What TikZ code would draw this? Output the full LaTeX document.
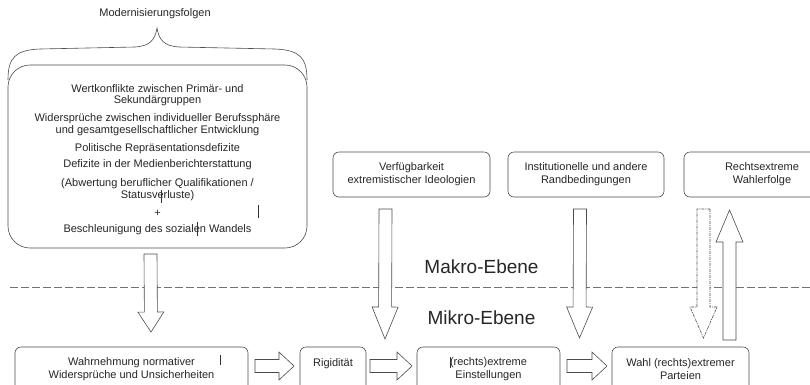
\documentclass[tikz,border=0pt]{standalone}
\usepackage{fontspec}
\setmainfont{Liberation Sans}
\usetikzlibrary{calc}
\newcommand\smallfs{\fontsize{11}{13}\selectfont}
\tikzset{
  rbox/.style={draw=black!70, line width=0.6pt, rounded corners=6pt, align=center,
    inner sep=0pt, font=\smallfs, text=black!85},
  blk/.style={draw=black!70, line width=0.6pt, fill=white, line join=miter},
  lvl/.style={font=\fontsize{19}{22}\selectfont, text=black!85, anchor=base},
  cursor/.style={draw=black!80, line width=0.7pt},
  dashdot/.style={dash pattern=on 3pt off 1pt on 1pt off 1pt},
}
% block arrow: [style]{start}{tip}{shaft half width}{head half width}{head length}
\newcommand\blockarr[6][]{%
  \coordinate (ba-c) at ($(#3)!#6!(#2)$);
  \draw[blk,#1] ($(#2)!#4!90:(#3)$) -- ($(ba-c)!#4!90:(#3)$) -- ($(ba-c)!#5!90:(#3)$)
    -- (#3) -- ($(ba-c)!#5!-90:(#3)$) -- ($(ba-c)!#4!-90:(#3)$) -- ($(#2)!#4!-90:(#3)$) -- cycle;}
\begin{document}
\begin{tikzpicture}[x=1pt,y=-1pt]
\useasboundingbox (0,0) rectangle (810,384);
\clip (0,0) rectangle (810,384);
\fill[white] (0,0) rectangle (810,384);

% title and brace
\node[font=\smallfs, text=black!85] (title) at (155,14) {Modernisierungsfolgen};
\draw[black!70, line width=0.6pt] (8,80) .. controls (8,58) and (15,50) .. (40,49)
  -- (135,47) .. controls (150,46) and (155,40) .. (157,28)
  .. controls (159,40) and (164,46) .. (179,47) -- (275,49)
  .. controls (300,50) and (307,58) .. (307,80);

% big box
\node[rbox, rounded corners=22pt, minimum width=299pt, minimum height=183pt] (big) at (157.5,156.5) {};
\node[align=center, inner sep=0pt, text=black!85, font=\fontsize{11}{11.8}\selectfont] (bigtext) at (157.5,159.5)
  {Wertkonflikte zwischen Primär- und\\ Sekundärgruppen\\[6.2pt]
   Widersprüche zwischen individueller Berufssphäre\\ und gesamtgesellschaftlicher Entwicklung\\[6.2pt]
   Politische Repräsentationsdefizite\\[4.2pt]
   Defizite in der Medienberichterstattung\\[7.2pt]
   (Abwertung beruflicher Qualifikationen /\\ Statusverluste)\\[6.2pt]
   +\\[4.2pt]
   Beschleunigung des sozialen Wandels};

% top right boxes
\node[rbox, minimum width=157pt, minimum height=45pt] (verf) at (411.5,174.5)
  {Verfügbarkeit\\extremistischer Ideologien};
\node[rbox, minimum width=156pt, minimum height=45pt] (inst) at (586,174.5)
  {Institutionelle und andere\\Randbedingungen};
\node[rbox, minimum width=156pt, minimum height=45pt] (rwe) at (762,174.5)
  {Rechtsextreme\\Wahlerfolge};

% bottom boxes
\node[rbox, minimum width=233pt, minimum height=45pt] (wahr) at (131.5,369.5)
  {Wahrnehmung normativer\\Widersprüche und Unsicherheiten};
\node[rbox, minimum width=66pt, minimum height=45pt] (rig) at (333,369.5)
  {Rigidität\\\mbox{}};
\node[rbox, minimum width=143pt, minimum height=45pt] (rext) at (488.5,369.5)
  {(rechts)extreme\\Einstellungen};
\node[rbox, minimum width=137pt, minimum height=45pt] (wahl) at (680.5,369.5)
  {Wahl (rechts)extremer\\Parteien};

% level line and labels
\coordinate (lineL) at (10,287.5);
\coordinate (lineR) at (810,287.5);
\draw[black!55, line width=0.6pt, dash pattern=on 8pt off 3pt] (lineL) -- (lineR);
\node[lvl] (makro) at (481.5,273) {Makro-Ebene};
\node[lvl] (mikro) at (481.5,324) {Mikro-Ebene};

% vertical arrows
\coordinate (a1s) at (150.5,254); \coordinate (a1t) at (151,332);
\blockarr{a1s}{a1t}{6.5pt}{13pt}{20pt}
\coordinate (a2s) at (385.5,209); \coordinate (a2t) at (385,339);
\blockarr{a2s}{a2t}{6.5pt}{13pt}{32pt}
\coordinate (a3s) at (580,209); \coordinate (a3t) at (579.5,338);
\blockarr{a3s}{a3t}{6.5pt}{13pt}{31pt}
\coordinate (a4s) at (703.5,209); \coordinate (a4t) at (703.5,338);
\blockarr[dashdot]{a4s}{a4t}{6.5pt}{13.5pt}{31pt}
\coordinate (a5s) at (729.5,340); \coordinate (a5t) at (729.5,210);
\blockarr{a5s}{a5t}{6.5pt}{13.5pt}{32pt}

% horizontal arrows
\coordinate (h1s) at (255,366); \coordinate (h1t) at (294,366);
\blockarr{h1s}{h1t}{6.5pt}{14pt}{15pt}
\coordinate (h2s) at (370,366); \coordinate (h2t) at (412,366);
\blockarr{h2s}{h2t}{6.5pt}{14pt}{15pt}
\coordinate (h3s) at (567,366); \coordinate (h3t) at (607,366);
\blockarr{h3s}{h3t}{6.5pt}{14pt}{15pt}

% text cursor marks
\draw[cursor] (161,190) -- (161,203);
\draw[cursor] (258,205) -- (258,218);
\draw[cursor] (197,222) -- (197,236);
\draw[cursor] (220,355) -- (220,365);
\draw[cursor] (450,357) -- (450,368);
\end{tikzpicture}
\end{document}
